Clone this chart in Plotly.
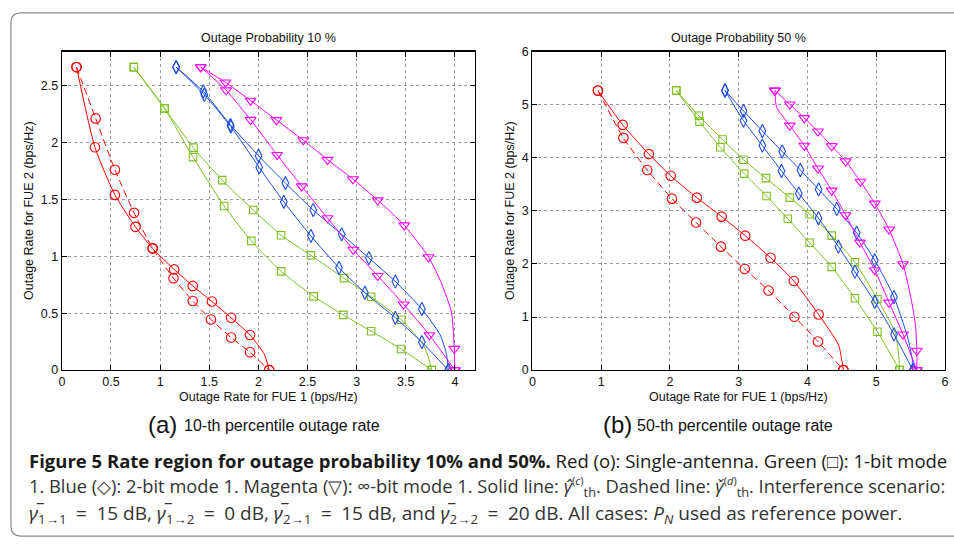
import plotly.graph_objects as go

W, H = 954, 544

# ---------------- data: left panel (Outage probability 10 %) ----------------
# solid curves (gamma hat c); flags: 1 = marker drawn, 0 = bend point
L_red_c_x = [0.149, 0.337, 0.54, 0.749, 0.924, 1.143, 1.332, 1.527, 1.723, 1.915, 2.06, 2.11]
L_red_c_y = [2.663, 1.958, 1.54, 1.259, 1.07, 0.885, 0.74, 0.603, 0.46, 0.308, 0.14, 0.0]
L_red_c_m = [1, 1, 1, 1, 1, 1, 1, 1, 1, 1, 0, 1]
L_red_d_x = [0.149, 0.344, 0.54, 0.735, 0.924, 1.136, 1.332, 1.517, 1.723, 1.915, 2.11]
L_red_d_y = [2.663, 2.212, 1.761, 1.382, 1.07, 0.808, 0.608, 0.445, 0.286, 0.157, 0.0]

L_grn_c_x = [0.732, 1.045, 1.339, 1.632, 1.948, 2.232, 2.535, 2.872, 3.148, 3.455, 3.68, 3.735, 3.765]
L_grn_c_y = [2.663, 2.30, 1.955, 1.67, 1.407, 1.185, 1.008, 0.808, 0.645, 0.443, 0.22, 0.10, 0.0]
L_grn_c_m = [1, 1, 1, 1, 1, 1, 1, 1, 1, 1, 0, 0, 1]
L_grn_d_x = [0.732, 1.045, 1.335, 1.652, 1.928, 2.232, 2.562, 2.865, 3.148, 3.452, 3.765]
L_grn_d_y = [2.663, 2.30, 1.872, 1.442, 1.136, 0.868, 0.648, 0.485, 0.342, 0.186, 0.0]

L_blu_c_x = [1.163, 1.44, 1.716, 2.002, 2.275, 2.558, 2.848, 3.125, 3.394, 3.664, 3.85, 3.915, 3.933]
L_blu_c_y = [2.663, 2.449, 2.155, 1.884, 1.644, 1.407, 1.193, 0.985, 0.779, 0.537, 0.31, 0.14, 0.0]
L_blu_c_m = [1, 1, 1, 1, 1, 1, 1, 1, 1, 1, 0, 0, 1]
L_blu_d_x = [1.163, 1.45, 1.72, 2.009, 2.259, 2.535, 2.821, 3.084, 3.394, 3.664, 3.933]
L_blu_d_y = [2.663, 2.42, 2.14, 1.781, 1.479, 1.179, 0.899, 0.68, 0.46, 0.246, 0.0]

L_mag_c_x = [1.413, 1.665, 1.921, 2.184, 2.457, 2.704, 2.963, 3.215, 3.485, 3.732, 3.85, 3.965, 3.994, 4.0]
L_mag_c_y = [2.663, 2.529, 2.369, 2.198, 2.021, 1.849, 1.678, 1.493, 1.273, 0.993, 0.79, 0.51, 0.188, 0.0]
L_mag_c_m = [1, 1, 1, 1, 1, 1, 1, 1, 1, 1, 0, 0, 1, 1]
L_mag_d_x = [1.413, 1.672, 1.921, 2.191, 2.441, 2.704, 2.966, 3.215, 3.479, 3.741, 4.0]
L_mag_d_y = [2.663, 2.46, 2.2, 1.892, 1.616, 1.336, 1.059, 0.828, 0.577, 0.308, 0.0]

# ---------------- data: right panel (Outage probability 50 %) ----------------
R_red_c_x = [0.953, 1.313, 1.694, 2.011, 2.391, 2.752, 3.094, 3.463, 3.801, 4.162, 4.45, 4.50, 4.522]
R_red_c_y = [5.266, 4.618, 4.068, 3.659, 3.248, 2.89, 2.532, 2.117, 1.677, 1.046, 0.48, 0.18, 0.0]
R_red_c_m = [1, 1, 1, 1, 1, 1, 1, 1, 1, 1, 0, 0, 1]
R_red_d_x = [0.953, 1.323, 1.67, 2.03, 2.38, 2.742, 3.088, 3.434, 3.81, 4.152, 4.522]
R_red_d_y = [5.266, 4.374, 3.769, 3.229, 2.78, 2.325, 1.903, 1.499, 1.004, 0.539, 0.0]

R_grn_c_x = [2.092, 2.42, 2.766, 3.07, 3.396, 3.743, 4.032, 4.353, 4.69, 5.017, 5.27, 5.325, 5.339]
R_grn_c_y = [5.266, 4.789, 4.343, 3.963, 3.615, 3.248, 2.936, 2.532, 2.031, 1.334, 0.72, 0.30, 0.0]
R_grn_c_m = [1, 1, 1, 1, 1, 1, 1, 1, 1, 1, 0, 0, 1]
R_grn_d_x = [2.092, 2.43, 2.733, 3.079, 3.405, 3.714, 4.032, 4.353, 4.69, 5.017, 5.339]
R_grn_d_y = [5.266, 4.679, 4.196, 3.701, 3.279, 2.851, 2.398, 1.945, 1.352, 0.723, 0.0]

R_blu_c_x = [2.8, 3.07, 3.344, 3.632, 3.896, 4.162, 4.426, 4.715, 4.979, 5.258, 5.46, 5.52, 5.532]
R_blu_c_y = [5.266, 4.881, 4.503, 4.117, 3.769, 3.402, 3.035, 2.587, 2.068, 1.376, 0.60, 0.23, 0.0]
R_blu_c_m = [1, 1, 1, 1, 1, 1, 1, 1, 1, 1, 0, 0, 1]
R_blu_d_x = [2.8, 3.07, 3.344, 3.622, 3.873, 4.16, 4.45, 4.69, 4.979, 5.258, 5.532]
R_blu_d_y = [5.266, 4.697, 4.228, 3.75, 3.328, 2.86, 2.325, 1.853, 1.284, 0.673, 0.0]

R_mag_c_x = [3.527, 3.743, 3.954, 4.152, 4.353, 4.555, 4.771, 4.979, 5.187, 5.389, 5.508, 5.57, 5.59, 5.59]
R_mag_c_y = [5.266, 5.004, 4.747, 4.496, 4.22, 3.934, 3.549, 3.138, 2.649, 1.995, 1.334, 0.844, 0.367, 0.0]
R_mag_c_m = [1, 1, 1, 1, 1, 1, 1, 1, 1, 1, 0, 0, 1, 1]
R_mag_d_x = [3.527, 3.55, 3.743, 3.954, 4.152, 4.353, 4.555, 4.762, 4.979, 5.187, 5.389, 5.59]
R_mag_d_y = [5.266, 4.954, 4.606, 4.228, 3.798, 3.383, 2.92, 2.404, 1.884, 1.273, 0.673, 0.0]
R_mag_d_m = [1, 0, 1, 1, 1, 1, 1, 1, 1, 1, 1, 1]

# ---------------- styles ----------------
RED, GRN, BLU, MAG = "#FF0000", "#7CC021", "#1A4CE0", "#FF00FF"
SYM = {RED: ("circle-open", 9.5), GRN: ("square-open", 7.5),
       BLU: ("diamond-tall-open", 9.5), MAG: ("triangle-down-open", 9.5)}

fig = go.Figure()


def add(x, y, color, dashed, xa, ya, m=None):
    sym, size = SYM[color]
    op = [1 if f else 0 for f in m] if m is not None else 1
    fig.add_trace(go.Scatter(
        x=x, y=y, mode="lines+markers", xaxis=xa, yaxis=ya, showlegend=False,
        line=dict(color=color, width=1, shape="spline", smoothing=0.6,
                  dash="7px,4px" if dashed else "solid"),
        marker=dict(symbol=sym, size=size, color=color, opacity=op,
                    line=dict(color=color, width=1.1)),
        hoverinfo="skip"))


# left
add(L_red_d_x, L_red_d_y, RED, True, "x", "y")
add(L_red_c_x, L_red_c_y, RED, False, "x", "y", L_red_c_m)
add(L_grn_d_x, L_grn_d_y, GRN, False, "x", "y")
add(L_grn_c_x, L_grn_c_y, GRN, False, "x", "y", L_grn_c_m)
add(L_blu_d_x, L_blu_d_y, BLU, False, "x", "y")
add(L_blu_c_x, L_blu_c_y, BLU, False, "x", "y", L_blu_c_m)
add(L_mag_d_x, L_mag_d_y, MAG, False, "x", "y")
add(L_mag_c_x, L_mag_c_y, MAG, False, "x", "y", L_mag_c_m)
# right
add(R_red_d_x, R_red_d_y, RED, True, "x2", "y2")
add(R_red_c_x, R_red_c_y, RED, False, "x2", "y2", R_red_c_m)
add(R_grn_d_x, R_grn_d_y, GRN, False, "x2", "y2")
add(R_grn_c_x, R_grn_c_y, GRN, False, "x2", "y2", R_grn_c_m)
add(R_blu_d_x, R_blu_d_y, BLU, False, "x2", "y2")
add(R_blu_c_x, R_blu_c_y, BLU, False, "x2", "y2", R_blu_c_m)
add(R_mag_d_x, R_mag_d_y, MAG, False, "x2", "y2", R_mag_d_m)
add(R_mag_c_x, R_mag_c_y, MAG, False, "x2", "y2", R_mag_c_m)

AXFONT = dict(family="Liberation Sans, Arial, sans-serif", size=12.5, color="#111")


def ax(domain, rng, dtick, anchor):
    return dict(domain=domain, range=rng, dtick=dtick, tick0=0, anchor=anchor,
                showline=True, linecolor="#000", linewidth=1.2, mirror="ticks",
                ticks="inside", ticklen=5, tickcolor="#000", tickwidth=1,
                showgrid=True, gridcolor="#9a9a9a", griddash="dot", gridwidth=1,
                zeroline=False, tickfont=AXFONT, fixedrange=True)


ydom = [1 - 372.7 / H, 1 - 45.7 / H]
fig.update_layout(
    width=W, height=H, margin=dict(l=0, r=0, t=0, b=0),
    paper_bgcolor="white", plot_bgcolor="white",
    xaxis=ax([59.3 / W, 475 / W], [0, 4.2], 0.5, "y"),
    yaxis=ax(ydom, [0, 2.8], 0.5, "x"),
    xaxis2=ax([533.3 / W, 949 / W], [0, 6], 1, "y2"),
    yaxis2=ax(ydom, [0, 6], 1, "x2"),
)


def P(px, py):
    return px / W, 1 - py / H


annots = []


def txt(px, py, text, size, family="Liberation Sans, Arial, sans-serif", xanchor="center",
        angle=0, color="#111"):
    x, y = P(px, py)
    annots.append(dict(x=x, y=y, xref="paper", yref="paper", text=text, showarrow=False,
                       xanchor=xanchor, yanchor="middle", textangle=angle,
                       font=dict(family=family, size=size, color=color)))


# panel titles and axis titles
txt(267, 31.5, "Outage Probability 10 %", 12.5)
txt(741, 31.5, "Outage Probability 50 %", 12.5)
txt(267, 400, "Outage Rate for FUE 1 (bps/Hz)", 12.5)
txt(741, 400, "Outage Rate for FUE 1 (bps/Hz)", 12.5)
txt(25.5, 209, "Outage Rate for FUE 2 (bps/Hz)", 12.5, angle=-90)
txt(510, 209, "Outage Rate for FUE 2 (bps/Hz)", 12.5, angle=-90)

# sub-captions
txt(144, 429, "(a)", 24, xanchor="left")
txt(180, 430, "10-th percentile outage rate", 16, xanchor="left")
txt(602, 429, "(b)", 24, xanchor="left")
txt(637, 430, "50-th percentile outage rate", 16, xanchor="left")

# caption
CAP = "Open Sans, Noto Sans, sans-serif"
g = "<i>γ̅</i>"
EQ = "\u2002=\u2002"
SS = '<span style="font-size:11px">'
line1 = ("<b>Figure 5 Rate region for outage probability 10% and 50%.</b> "
         "Red (o): Single-antenna. Green (□): 1-bit mode")
line2 = ("1. Blue (◇): 2-bit mode 1. Magenta (▽): ∞-bit mode 1. Solid line: "
         "<i>γ̂</i><sup>" + SS + "(<i>c</i>)</span></sup><sub>th</sub>. Dashed line: "
         "<i>γ̌</i><sup>" + SS + "(<i>d</i>)</span></sup><sub>th</sub>. Interference scenario:")
line3 = (g + "<sub>1→1</sub>" + EQ + "15 dB, " + g + "<sub>1→2</sub>" + EQ + "0 dB, " + g +
         "<sub>2→1</sub>" + EQ + "15 dB, and " + g + "<sub>2→2</sub>" + EQ + "20 dB. All cases: "
         "<i>P<sub>N</sub></i> used as reference power.")
txt(24, 465, line1, 18.5, family=CAP, xanchor="left", color="#1a1a1a")
txt(24, 493, line2, 18.3, family=CAP, xanchor="left", color="#333")
txt(24, 520, line3, 19, family=CAP, xanchor="left", color="#333")

fig.update_layout(annotations=annots)

# rounded border of the figure box
x0, y0 = P(8, 6)
x1, y1 = P(960, 543)
rx, ry = 10 / W, 10 / H
path = (f"M {x0 + rx},{y0} L {x1},{y0} L {x1},{y1} L {x0 + rx},{y1} "
        f"Q {x0},{y1} {x0},{y1 + ry} L {x0},{y0 - ry} Q {x0},{y0} {x0 + rx},{y0} Z")
fig.add_shape(type="path", path=path, xref="paper", yref="paper",
              line=dict(color="#8a8a8a", width=1.2), layer="below")

fig.write_html(
    "out.html",
    config={"displayModeBar": False, "staticPlot": True},
    post_script=("document.body.style.margin='0';document.body.style.padding='0';"
                 "document.body.style.overflow='hidden';"
                 "document.documentElement.style.overflow='hidden';"))
